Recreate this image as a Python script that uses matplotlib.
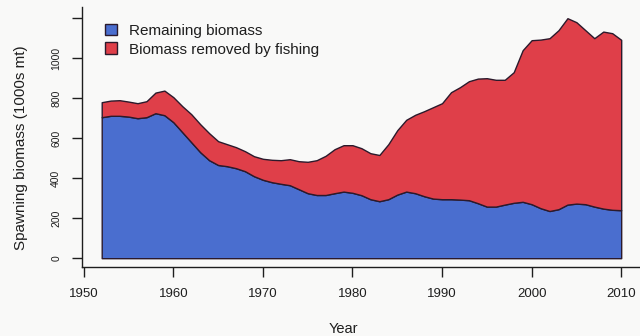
import matplotlib.pyplot as plt
from matplotlib.patches import Patch

# spawning biomass by year, 1000s mt
years = list(range(1952, 2011))
total_biomass = [780, 788, 790, 783, 775, 785, 828, 838, 805, 760,
                 720, 670, 625, 585, 570, 555, 535, 510, 497, 492,
                 490, 495, 485, 482, 490, 512, 545, 565, 565, 550,
                 525, 516, 570, 640, 692, 717, 735, 755, 775, 830,
                 855, 885, 898, 900, 892, 892, 930, 1040, 1090, 1093,
                 1100, 1140, 1200, 1180, 1140, 1100, 1133, 1125, 1092]
remaining = [705, 712, 712, 708, 700, 705, 725, 715, 680, 630,
             580, 530, 490, 466, 460, 450, 435, 410, 392, 380,
             372, 365, 345, 325, 316, 316, 325, 333, 327, 315,
             295, 285, 295, 318, 333, 325, 310, 298, 295, 295,
             293, 290, 275, 258, 258, 268, 277, 282, 270, 250,
             236, 245, 268, 273, 270, 258, 248, 242, 240]
legend_labels = ['Remaining biomass', 'Biomass removed by fishing']
x_ticks = [1950, 1960, 1970, 1980, 1990, 2000, 2010]
y_ticks = [0, 200, 400, 600, 800, 1000, 1200]
y_tick_labels = ['0', '200', '400', '600', '800', '1000', '']

blue = '#4a6ecf'
red = '#df3f49'
edge = '#2b1a2c'
ink = '#1e1e1e'

plt.rcParams['font.family'] = ['Liberation Sans', 'DejaVu Sans']

fig = plt.figure(figsize=(6.4, 3.36), dpi=100, facecolor='#f9f9f8')
ax = fig.add_axes([82 / 640, 69 / 336, 558 / 640, 260 / 336])
ax.set_facecolor('#f9f9f8')

ax.fill_between(years, 0, remaining, facecolor=blue, edgecolor=edge, linewidth=1.0)
ax.fill_between(years, remaining, total_biomass, facecolor=red, edgecolor=edge, linewidth=1.0)

ax.set_xlim(1949.8, 2012.1)
ax.set_ylim(-44, 1256)

for side in ['top', 'right']:
    ax.spines[side].set_visible(False)
for side in ['left', 'bottom']:
    ax.spines[side].set_color(ink)
    ax.spines[side].set_linewidth(1.0)

ax.set_xticks(x_ticks)
ax.set_xticklabels([str(y) for y in x_ticks], fontsize=9.5, color=ink)
ax.set_yticks(y_ticks)
ax.set_yticklabels(y_tick_labels, fontsize=7.5, color=ink, rotation=90, va='center')
ax.tick_params(axis='both', direction='out', length=7, width=1.0, color=ink)
ax.tick_params(axis='x', pad=8)
ax.tick_params(axis='y', pad=8)

ax.set_ylabel('Spawning biomass (1000s mt)', fontsize=11, color=ink)
ax.yaxis.set_label_coords(-0.097, 0.458)
ax.set_xlabel('Year', fontsize=10.5, color=ink)
ax.xaxis.set_label_coords(0.468, -0.21)

handles = [Patch(facecolor=blue, edgecolor=edge, linewidth=1.0),
           Patch(facecolor=red, edgecolor=edge, linewidth=1.0)]
ax.legend(handles, legend_labels, loc='upper left', bbox_to_anchor=(97 / 640, 1 - 16 / 336),
          bbox_transform=fig.transFigure, frameon=False, fontsize=11,
          handlelength=0.8, handleheight=0.8, handletextpad=0.8, labelspacing=0.3,
          borderpad=0, labelcolor=ink)

fig.savefig('out.png', dpi=100, facecolor=fig.get_facecolor())
